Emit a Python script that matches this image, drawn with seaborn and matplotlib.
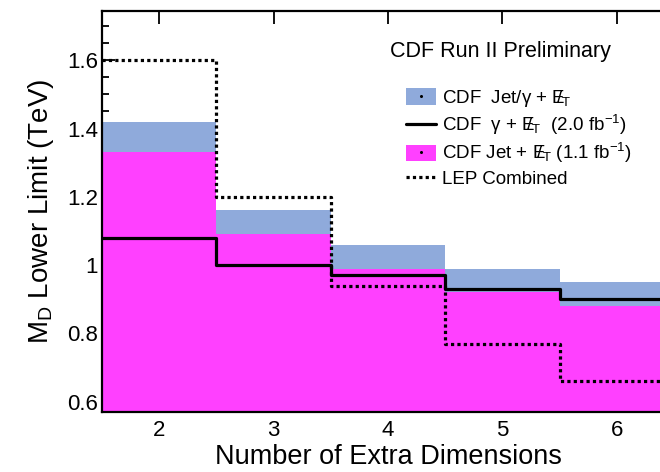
import numpy as np
import pandas as pd
import matplotlib
matplotlib.use("Agg")
import matplotlib.pyplot as plt
from matplotlib.patches import Patch
from matplotlib.lines import Line2D
from matplotlib.ticker import MultipleLocator, FixedLocator
import seaborn as sns

# Lower limits on M_D (TeV) versus number of extra dimensions
dims = [2, 3, 4, 5, 6]
jet_gamma_combined = [1.42, 1.16, 1.06, 0.99, 0.95]
jet_only = [1.33, 1.09, 0.99, 0.92, 0.88]
gamma_only = [1.08, 1.00, 0.97, 0.93, 0.90]
lep_combined = [1.60, 1.20, 0.94, 0.77, 0.66]

y_ticks = [0.6, 0.8, 1.0, 1.2, 1.4, 1.6]
y_tick_labels = ["0.6", "0.8", "1", "1.2", "1.4", "1.6"]

df = pd.DataFrame({
    "n": dims,
    "jet_gamma": jet_gamma_combined,
    "jet": jet_only,
    "gamma": gamma_only,
    "lep": lep_combined,
})
edges = [d - 0.5 for d in dims] + [dims[-1] + 0.5]

sns.set_style("ticks")
plt.rcParams["font.family"] = ["Liberation Sans", "DejaVu Sans"]
plt.rcParams["mathtext.fontset"] = "custom"
plt.rcParams["mathtext.rm"] = "Liberation Sans"
plt.rcParams["mathtext.it"] = "Liberation Sans"
plt.rcParams["mathtext.bf"] = "Liberation Sans:bold"
for key in ("text.color", "axes.labelcolor", "xtick.color", "ytick.color",
            "axes.edgecolor"):
    plt.rcParams[key] = "black"

BLUE = "#8FAADB"
MAGENTA = "#FF40FF"

fig = plt.figure(figsize=(6.6, 4.72), dpi=100)
ax = fig.add_axes([102 / 660, 60.3 / 472, 572 / 660, 400.7 / 472])

sns.histplot(data=df, x="n", weights="jet_gamma", bins=edges, element="step",
             fill=True, color=BLUE, alpha=1, linewidth=0, ax=ax)
sns.histplot(data=df, x="n", weights="jet", bins=edges, element="step",
             fill=True, color=MAGENTA, alpha=1, linewidth=0, ax=ax)
sns.histplot(data=df, x="n", weights="gamma", bins=edges, element="step",
             fill=False, color="black", linewidth=2.3, ax=ax)
sns.histplot(data=df, x="n", weights="lep", bins=edges, element="step",
             fill=False, color="black", linewidth=2.3, linestyle=(0, (1, 1)), ax=ax)

ax.set_xlim(edges[0], edges[-1])
ax.set_ylim(0.571, 1.744)

ax.xaxis.set_major_locator(FixedLocator(dims))
ax.set_xticklabels([str(d) for d in dims])
ax.yaxis.set_major_locator(FixedLocator(y_ticks))
ax.set_yticklabels(y_tick_labels)
ax.yaxis.set_minor_locator(MultipleLocator(0.05))

ax.tick_params(axis="both", which="both", direction="in", top=True, right=True,
               colors="black", width=1.3)
ax.tick_params(axis="both", which="major", length=9.5, labelsize=16)
ax.tick_params(axis="y", which="major", pad=3)
ax.tick_params(axis="x", which="major", pad=6)
ax.tick_params(axis="both", which="minor", length=5)
ax.tick_params(axis="x", which="minor", bottom=False, top=False)

for sp in ax.spines.values():
    sp.set_linewidth(1.6)
    sp.set_color("black")

ax.set_xlabel("Number of Extra Dimensions", fontsize=19.5, labelpad=2)
ax.set_ylabel(r"M$_{\mathrm{D}}$ Lower Limit (TeV)", fontsize=20, labelpad=8)

fig.text(390 / 660, 1 - 52 / 472, "CDF Run II Preliminary", fontsize=15.5,
         ha="left", va="center")

met = r"$\mathrm{E}\!\!\!/_{\mathrm{T}}$"
dot = Line2D([], [], marker="o", markersize=1.2, color="black", linestyle="none")
handles = [
    (Patch(facecolor=BLUE, edgecolor="none"), dot),
    Line2D([], [], color="black", linewidth=2.3),
    (Patch(facecolor=MAGENTA, edgecolor="none"), dot),
    Line2D([], [], color="black", linewidth=2.3, linestyle=(0, (1, 1))),
]
labels = [
    "CDF  Jet/" + r"$\gamma$" + " + " + met,
    "CDF  " + r"$\gamma$" + " + " + met + "  (2.0 fb$^{-1}$)",
    "CDF Jet + " + met + " (1.1 fb$^{-1}$)",
    "LEP Combined",
]
ax.legend(handles, labels, loc="upper left", bbox_to_anchor=(406 / 660, 1 - 88 / 472),
          bbox_transform=fig.transFigure, frameon=False, fontsize=13.5,
          borderpad=0, borderaxespad=0, handlelength=1.6, handleheight=1.0,
          handletextpad=0.32, labelspacing=0.22)

fig.savefig("out.png", dpi=100)
